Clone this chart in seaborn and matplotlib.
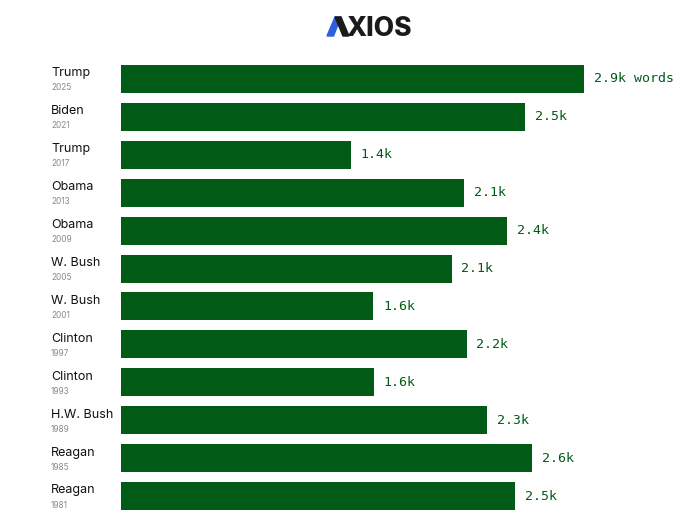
import numpy as np
import pandas as pd
import matplotlib
matplotlib.use('Agg')
import matplotlib.pyplot as plt
import matplotlib.transforms as mtransforms
import seaborn as sns

#data
presidents = ['Trump', 'Biden', 'Trump', 'Obama', 'Obama', 'W. Bush', 'W. Bush',
              'Clinton', 'Clinton', 'H.W. Bush', 'Reagan', 'Reagan']
years = ['2025', '2021', '2017', '2013', '2009', '2005', '2001',
         '1997', '1993', '1989', '1985', '1981']
words = [2900, 2530, 1440, 2150, 2420, 2070, 1580, 2165, 1585, 2295, 2575, 2470]
value_labels = ['2.9k words', '2.5k', '1.4k', '2.1k', '2.4k', '2.1k', '1.6k',
                '2.2k', '1.6k', '2.3k', '2.6k', '2.5k']

d = pd.DataFrame({'row': [p + ' ' + y for p, y in zip(presidents, years)], 'words': words})

green = '#015a16'

sns.set_theme(style='white')
plt.rcParams['font.family'] = ['Inter', 'DejaVu Sans']

fig = plt.figure(figsize=(7, 5.15), dpi=100)
ax = fig.add_axes([121 / 700, 0 / 515, 579 / 700, 455 / 515])

sns.barplot(data=d, x='words', y='row', color=green, width=0.74,
            saturation=1, ax=ax, edgecolor='none')

ax.set_xlim(0, 3626)
ax.set_ylim(11.5, -0.5)
ax.set_xlabel('')
ax.set_ylabel('')
ax.set_xticks([])
ax.set_yticks([])
for s in ax.spines.values():
    s.set_visible(False)

#labels at end of bars
for i, (v, lab) in enumerate(zip(words, value_labels)):
    ax.annotate(lab, (v, i), xytext=(7, 0), textcoords='offset points',
                va='center', ha='left', color=green, fontsize=9.5,
                family='DejaVu Sans Mono', annotation_clip=False)

#president name + year on the left
trans = mtransforms.blended_transform_factory(fig.transFigure, ax.transData)
for i, (p, y) in enumerate(zip(presidents, years)):
    ax.text(51 / 700, i, p, transform=trans + mtransforms.ScaledTranslation(0, 4 / 72, fig.dpi_scale_trans),
            va='center', ha='left', fontsize=9, color='#111111')
    ax.text(51 / 700, i, y, transform=trans + mtransforms.ScaledTranslation(0, -6.5 / 72, fig.dpi_scale_trans),
            va='center', ha='left', fontsize=6, color='#8a8a8a')

#logo: blue/black A strokes + XIOS
def px(x, y):
    return [x / 700, 1 - y / 515]

fig.patches.append(plt.Polygon([px(327, 36), px(333.5, 36), px(341, 17), px(335, 17)],
                               closed=True, transform=fig.transFigure, color='#2f5fdc'))
fig.patches.append(plt.Polygon([px(335, 17), px(341, 17), px(349, 36), px(343, 36)],
                               closed=True, transform=fig.transFigure, color='#1a1a1a'))
fig.text(346 / 700, 1 - 36 / 515, 'XIOS', ha='left', va='baseline',
         fontsize=19, fontweight='heavy', color='#1a1a1a', family='Inter')

plt.savefig('out.png', dpi=100)
